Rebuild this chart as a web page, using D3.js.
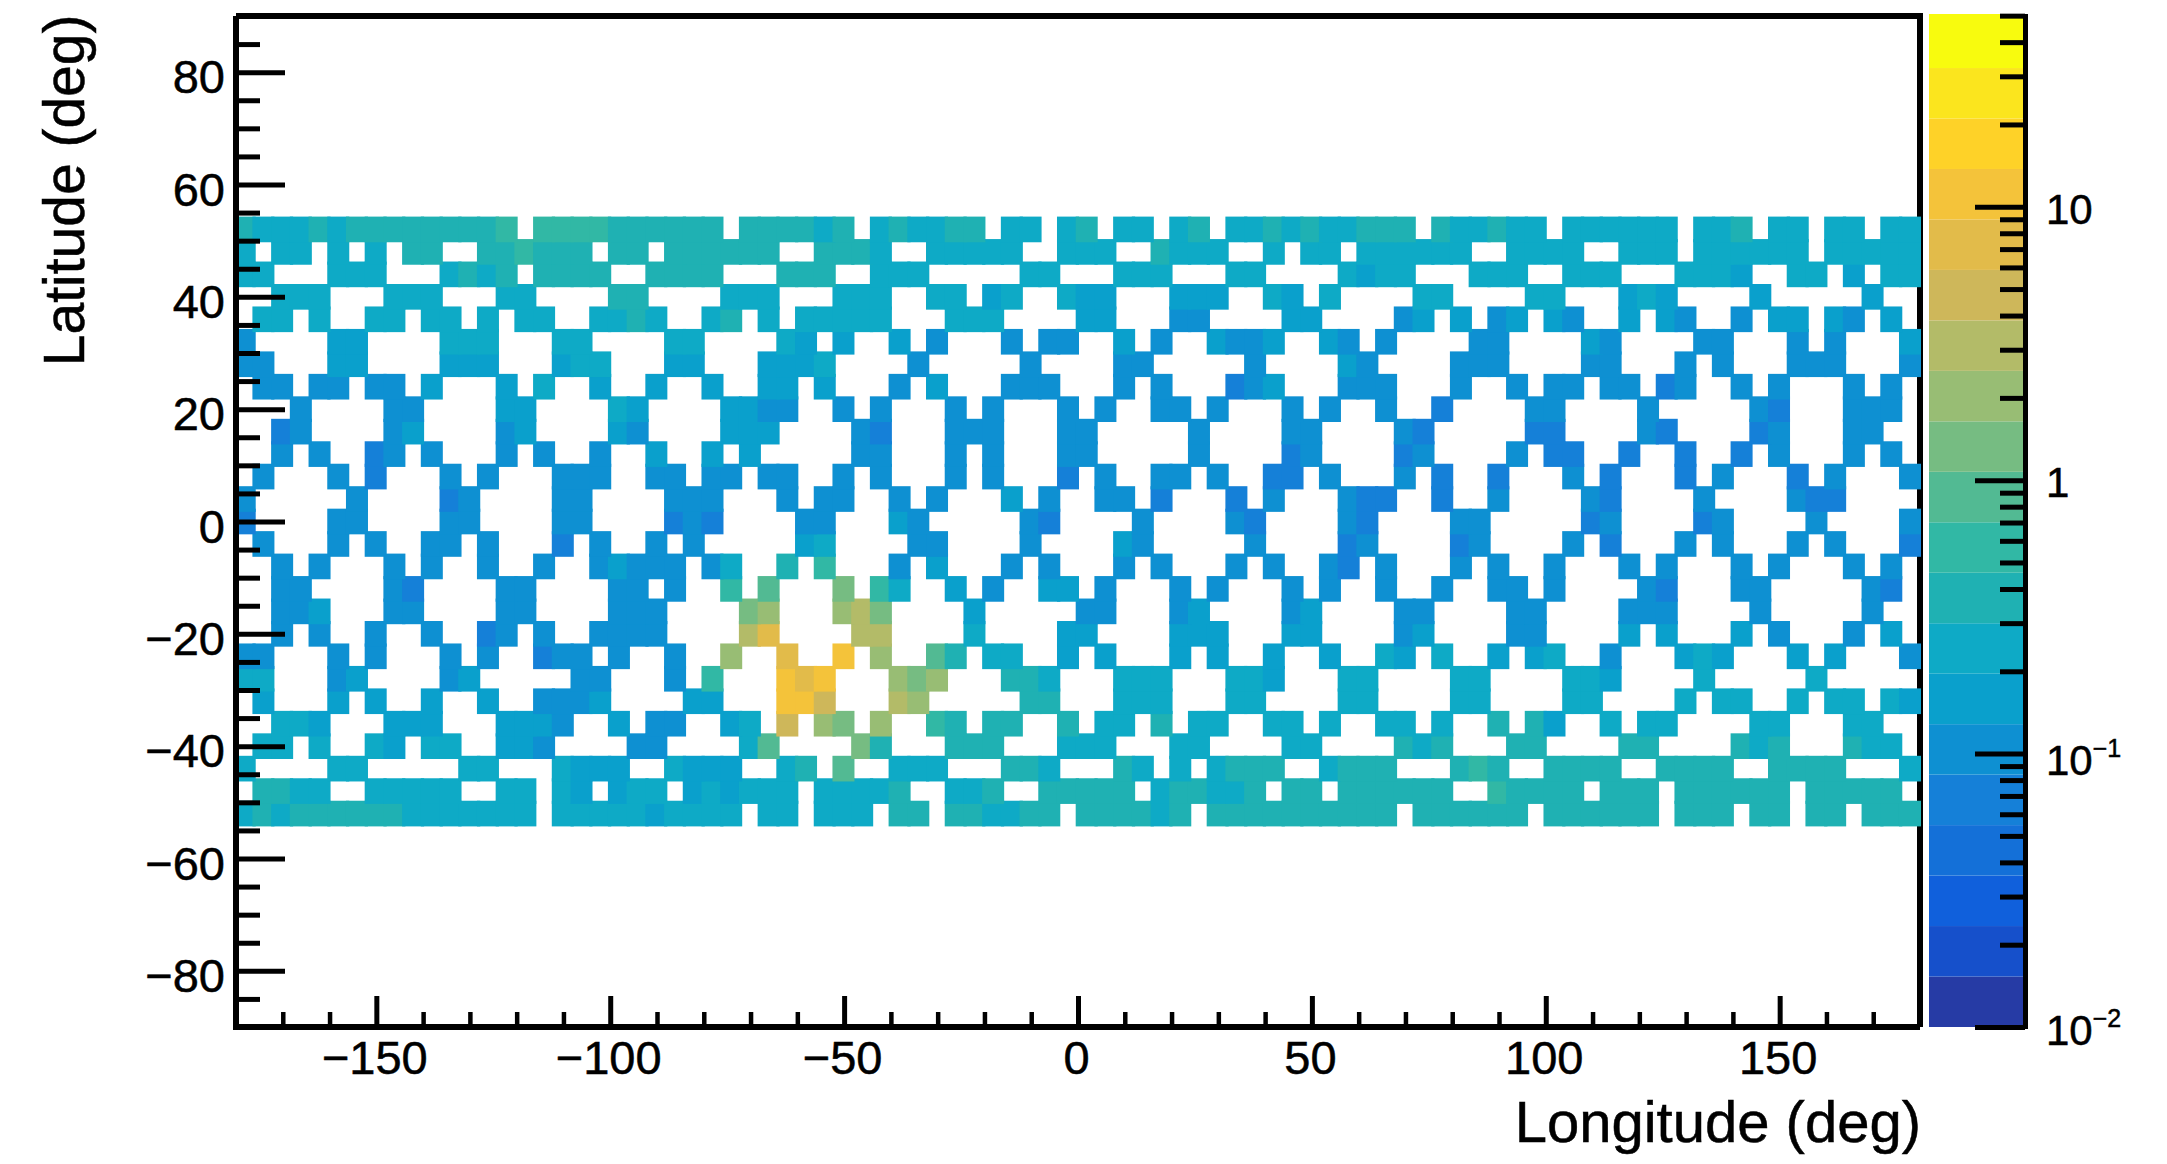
<!DOCTYPE html>
<html>
<head>
<meta charset="utf-8">
<script src="https://cdn.jsdelivr.net/npm/d3@7"></script>
<style>
html,body{margin:0;padding:0;background:#fff;}
svg{display:block;}
text{font-family:"Liberation Sans",Arial,sans-serif;fill:#000;stroke:#000;stroke-width:0.5px;}
</style>
</head>
<body>
<svg id="c" width="2167" height="1164"></svg>
<script>
// Colour-level code read for each 4 x 4 degree bin, top row (lat 54..50) first, lon -180 -> 180. "." = empty.
const cellLevels = [
"8 7 7 7 8 7 8 8 8 8 8 8 8 8 9 . 9 9 9 9 8 8 8 8 8 8 . 8 8 8 8  7 8 . 7 8 7 7 8 8 . 7 7 . 7 8 . 7 7 . 7 8 . 7 7 8 7 8 7 7 8 8  8 . 8 7 7 8 7 7 . 7 7 7 7 7 7 . 7 7 8 . 7 7 . 7 7 . 7 7",
"7 . 7 7 . 7 . 7 . 8 8 . . 8 8 9 8 8 8 . 8 8 . 8 8 8 8 8 8 . .  8 8 8 7 . . 7 7 7 7 7 . . 7 7 7 . . 8 7 7 7 . . 7 . 7 7 . 7 7  7 7 7 7 . . 7 7 7 7 . . 7 7 7 . 7 7 7 7 7 7 . 7 7 7 7 7",
"7 7 . . . 7 7 7 . . . 7 8 7 8 . 8 8 8 8 . . 8 8 8 8 . . . 8 8  8 . . 7 7 7 . . . . . 7 7 . . . 7 7 7 . . . 7 7 . . . . 7 6 7  7 . . . 7 7 7 . . 7 7 7 . . . 7 7 7 6 . . 7 7 . 6 . 7 7",
". . 7 7 7 . . . 7 7 7 . . . 7 7 . . . . 8 8 . . . . 7 7 7 . .  . 7 7 7 . . 7 7 . 6 7 . . 7 6 6 . . . 6 6 6 . . 7 6 . 7 . . .  . 7 7 . . . . 7 7 . . . 6 7 6 . . . . 6 . . . . . 6 . .",
". 7 7 . 7 . . 7 7 . 7 7 . 7 . 7 7 . . 7 7 8 7 . . 7 8 . 7 . 7  7 7 7 7 . . . 7 7 7 . . . . 6 6 . . . 5 5 . . . . 6 6 . . . .  5 6 . 6 . 5 6 . 6 5 . . 6 . 6 5 . . 5 . 6 6 . 6 5 . 6 .",
"5 . . . . 6 6 . . . . 7 7 7 . . . 7 7 . . . . 7 7 . . . . 7 6  . 6 . . 6 . 5 . . . 5 . 5 5 . . 6 . 5 . . 6 5 5 6 . . 6 5 . 5  . . . . 5 5 . . . . 6 5 . . . . 5 5 . . . 5 . 5 . . . 6",
"5 5 . . . 6 6 . . . . 6 6 6 . . . 6 7 7 . . . 6 6 . . . 6 6 6  7 . . . . 5 . . . . . 5 . . . . 5 5 . . . . . 5 . . . . 6 5 .  . . . 5 5 5 . . . . 5 5 . . . 5 . 5 . . . 5 5 5 . . . 5",
". 5 5 . 5 5 . 5 5 . 6 . . . 6 . 7 . . 6 . . 6 . . 6 . . 6 6 .  6 . . . 5 . 6 . . . 5 5 5 . . . 5 . 5 . . . 4 5 6 . . . 5 5 5  . . . 5 . . 5 . 5 5 . 5 5 . 4 5 . . 5 . 5 . . . 5 . 5 .",
". . . 5 . . . . 5 5 . . . . 6 6 . . . . 7 6 . . . . 6 6 5 5 .  . 5 . 5 . . . 5 . 5 . . . 5 . 5 . . 5 5 . 5 . . . 5 . 5 . . 5  . . 4 . . . . 5 5 . . . . 5 . . . . . 5 4 . . . 5 5 5 .",
". . 4 5 . . . . 5 6 . . . . 5 6 . . . . 6 5 . . . . 6 6 6 . .  . . 5 4 . . . 5 5 5 . . . 5 5 . . . . . 5 . . . . 5 5 . . . .  5 4 . . . . . 4 4 . . . . 5 4 . . . . 4 5 . . . 5 5 . .",
". . 5 . 5 . . 4 5 . 5 . . . 5 . 5 . . 5 . . 6 . . 6 . 6 . . .  . . 5 5 . . . 5 . 5 . . . 5 5 . . . . . 5 . . . . 4 5 . . . .  4 5 . . . . 5 . 4 4 . . 4 . . 4 . . 4 . 5 . . . 5 . 5 .",
". 5 . . . 5 . 4 . . . 5 . 5 . . . 5 5 5 . . 5 5 . 5 5 . 5 5 .  . 5 . 5 . . . 5 . 5 . . . 4 . 5 . . 5 5 . 5 . . 4 4 . 5 . . .  5 . 4 . . 4 . . . 5 . 4 . . . 4 . 5 . . . 4 . 5 . . . 5",
"5 . . . . . 5 . . . . 4 5 . . . . 5 5 . . . . 5 5 5 . . . 5 .  5 5 . . 5 . 5 . . . 6 . 5 . . 5 5 . 4 . . . 4 . 5 . . . 5 4 4  . . 4 . . 5 . . . . 5 4 . . . . 5 . . . . 5 4 4 . . . .",
"4 . . . . 5 5 . . . . 5 5 . . . . 5 5 . . . . 4 5 4 . . . . 5  5 . . . 6 5 . . . . . 5 4 . . . . 5 . . . . 5 4 . . . . 5 4 .  . . . 5 5 . . . . . 4 5 . . . . 4 5 . . . . 5 . . . . 5",
". 5 . . . 5 . 5 . . 5 5 . 5 . . . 4 . 5 . . 5 . 5 . . . . . 6  7 . . . . 5 5 . . . . 5 . . . . 6 5 . . . . . 5 . . . . 4 5 .  . . . 4 5 . . . . 5 . 4 . . . 5 . 5 . . . 5 . 5 . . . 4",
". . 5 . 5 . . . 5 . 5 . . 5 . . 5 . . 5 6 5 5 5 . 5 7 . . 8 .  9 . . . 5 . 6 . . . 5 . 5 . . . 5 . 5 . . . 5 . 5 . . 5 4 . 5  . . . 5 . 5 . . 5 . . . 5 . 5 . . . 5 . 5 . . . 5 . 5 .",
". . 5 5 . . . . 5 4 . . . . 5 5 . . . . 5 5 . 5 . . 9 . a . .  . b . 9 7 . . 6 . 5 . . 6 6 . 5 . . . 5 . 5 . . . 5 . 5 . . 5  . . 5 . . 5 5 . 5 . . . . 5 4 . . . 5 5 . . . . . 5 4 .",
". . 5 5 6 . . . 5 5 . . . . 5 5 . . . . 5 5 5 . . . . b c . .  . c d b . . . . 6 . . . . . 5 5 . . . 5 6 . . . . 5 6 . . . .  5 5 . . . . 5 5 . . . . 5 5 5 . . . . 5 . . . . . 5 . .",
". . 5 . 5 . . 5 . . 5 . . 4 5 . 5 . . 5 5 5 5 . . . . d f . .  . . d d . . . . 7 . . . . 6 6 . . . . 6 6 6 . . . 6 6 . . . .  5 6 . . . . 5 5 . . . . 6 . 6 . . . 6 . 5 . . . 5 . 6 .",
"5 5 . . . 5 . 5 . . . 5 . 5 . . 4 5 5 . 5 . . 5 . . c . . f .  . g . c . . a 8 . 7 7 . . 6 . 6 . . . 6 . 6 . . 6 . . 6 . . 7  6 . 7 . . 6 . 6 7 . . 5 . . . 6 7 6 . . . 6 . 6 . . . 5",
"7 7 . . . 5 6 . . . . 5 6 . . . . . 5 5 . . . 5 . 9 . . . g f  g . . . c b c . . . 8 8 7 . . . 7 7 7 . . . 7 7 6 . . . 7 7 .  . . . 7 7 . . . . 7 7 6 . . . . 7 . . . . . 7 . . . . .",
". 6 . . . 6 . 6 . . 6 . . 6 . . 5 5 5 6 . . . . 6 6 . . . g g  e . . . d c . . . . . 8 8 . . . 7 7 7 . . . 7 7 . . . . 7 7 .  . . . 7 7 . . . . 7 7 . . . . 7 . 7 7 . . 7 . 7 7 . 7 6",
". . 7 7 6 . . . 6 6 6 . . . 6 6 6 5 . . 6 . 5 5 . . 6 7 . e .  c b . c . . 9 8 . 8 8 . . 8 . 7 7 . 8 . 7 7 . . 7 7 . 7 . . 7  7 . 7 . . 8 . 8 6 . . 7 . 7 7 . . . . 7 7 . . . 7 7 . .",
". 7 7 . 7 . . 7 6 . 7 7 . . 6 6 5 . . . . 5 5 . . . . 7 a . .  . . b 8 . . . 8 8 8 . . . 7 7 7 . . . 7 7 . . . . 7 7 . . . .  8 7 8 . . . 8 8 . . . . 8 8 . . . . 8 7 8 . . . 8 7 7 .",
"7 . . . . 7 7 . . . . . 7 7 . . . 7 6 6 6 . . 7 6 6 6 . . 7 8  . a . . 7 7 7 . . . 8 8 7 . . . 8 7 . 7 . 7 8 8 8 . . 7 8 8 8  . . . 8 9 8 . . 8 8 8 8 . . 8 8 8 8 . . 8 8 8 8 . . . 7",
". 8 8 7 7 . . 7 7 7 7 7 . . 7 7 . 7 6 . 6 7 7 . 6 7 6 7 7 7 .  7 7 7 7 8 . . 7 7 8 . . 8 8 8 8 8 . 7 8 8 7 7 8 . 8 8 . 8 8 8  8 8 8 . . 9 8 8 8 8 . 8 8 8 . 8 8 8 8 8 8 . 8 8 8 8 8 .",
"7 8 7 8 8 8 8 8 8 7 7 7 7 7 7 7 . 7 7 7 7 7 6 7 7 7 7 . 7 7 .  7 7 7 . 8 8 . 8 8 7 7 8 8 . 8 8 8 8 7 8 . 8 8 8 8 8 8 8 8 8 8  . 8 8 8 8 8 8 . 8 8 8 8 8 8 . 8 8 8 . 8 8 . 8 8 . 8 8 8"
];
// Representative reading (events) for each colour-level code.
const levelValues = {"4":0.068,"5":0.105,"6":0.16,"7":0.245,"8":0.38,"9":0.58,"a":0.88,"b":1.35,"c":2.1,"d":3.2,"e":4.9,"f":7.4,"g":11.4};
const palette = ["#263ba5","#1650cb","#1060dc","#1470d8","#1580d8","#0e90d2","#0aa0cc","#0eaac6","#1fb1b3","#31b8a5","#52ba93","#76bc82","#98bd74","#b3bb68","#ceb75a","#e2bb4a","#f4c33a","#fed228","#fbe51e","#f8fb0e"];
const lonTicksMajor = [-150,-100,-50,0,50,100,150];
const lonTicksMinor = [-170,-160,-140,-130,-120,-110,-90,-80,-70,-60,-40,-30,-20,-10,10,20,30,40,60,70,80,90,110,120,130,140,160,170];
const latTicksMajor = [-80,-60,-40,-20,0,20,40,60,80];
const latTicksMinor = [-85,-75,-70,-65,-55,-50,-45,-35,-30,-25,-15,-10,-5,5,10,15,25,30,35,45,50,55,65,70,75,85];
const zTicksMajor = [0.01,0.1,1,10];
const zTicksMinor = [0.02,0.03,0.04,0.05,0.06,0.07,0.08,0.09,0.2,0.3,0.4,0.5,0.6,0.7,0.8,0.9,2,3,4,5,6,7,8,9,20,30,40,50];
const zAxisDomain = [0.01,50.7];
const zLevelDomain = [0.01,49.2];
const lonDomain = [-180,180], latDomain = [-90,90], binDeg = 4, topLat = 54;

const L=236,R=1920,T=16,B=1027;
const svg = d3.select("#c");
const x = d3.scaleLinear().domain(lonDomain).range([L,R]);
const y = d3.scaleLinear().domain(latDomain).range([B,T]);
const zLevel = d3.scaleLog().domain(zLevelDomain).range([0,palette.length]);
const yZ = d3.scaleLog().domain(zAxisDomain).range([1027,14]);
const band = v => palette[Math.min(palette.length-1,Math.floor(zLevel(v)))];

// frame lines that cells partly cover
svg.append("path").attr("d",`M${L},${T}H${R}V${B}`).attr("fill","none").attr("stroke","#000").attr("stroke-width",6);

// cells: lowest latitude first, lon ascending
const cells = [];
cellLevels.forEach((row,r)=>{
  row.trim().split(/\s+/).forEach((code,c)=>{
    if(code!==".") cells.push({lon:lonDomain[0]+c*binDeg, lat:topLat-(r+1)*binDeg, v:levelValues[code]});
  });
});
cells.sort((a,b)=>a.lat-b.lat||a.lon-b.lon);
svg.append("g").selectAll("rect").data(cells).join("rect")
  .attr("x",d=>x(d.lon)-2.3)
  .attr("width",d=>x(d.lon+binDeg)-x(d.lon)+3.3)
  .attr("y",d=>y(d.lat+binDeg)-1.6)
  .attr("height",d=>y(d.lat)-y(d.lat+binDeg)+3.2)
  .attr("fill",d=>band(d.v));

// left and bottom frame on top
svg.append("path").attr("d",`M${L},${T}V${B}H${R}`).attr("fill","none").attr("stroke","#000").attr("stroke-width",6);

function style(g,w){ g.select(".domain").remove(); g.selectAll("line").attr("stroke","#000").attr("stroke-width",w); }

// x axis: ticks point up from the bottom frame
svg.append("g").attr("transform",`translate(0,${B})`)
  .call(d3.axisTop(x).tickValues(lonTicksMinor).tickSize(15).tickFormat(""))
  .call(g=>style(g,4.5)).call(g=>g.selectAll("text").remove());
svg.append("g").attr("transform",`translate(0,${B})`)
  .call(d3.axisTop(x).tickValues(lonTicksMajor).tickSize(31).tickFormat(d3.format("d")))
  .call(g=>style(g,5))
  .call(g=>g.selectAll("text").attr("y",47).attr("x",-2).attr("dy",0).attr("text-anchor","middle").attr("font-size",47).attr("font-family",'"Liberation Sans"').attr("fill","#000"));

// y axis: ticks point right from the left frame
svg.append("g").attr("transform",`translate(${L},0)`)
  .call(d3.axisRight(y).tickValues(latTicksMinor).tickSize(24).tickFormat(""))
  .call(g=>style(g,5)).call(g=>g.selectAll("text").remove());
svg.append("g").attr("transform",`translate(${L},0)`)
  .call(d3.axisRight(y).tickValues(latTicksMajor).tickSize(49).tickFormat(d3.format("d")))
  .call(g=>style(g,5))
  .call(g=>g.selectAll("text").attr("x",-11).attr("dy",20.5).attr("text-anchor","end").attr("font-size",47).attr("font-family",'"Liberation Sans"').attr("fill","#000"));

// axis titles
svg.append("text").attr("x",1921).attr("y",1142).attr("text-anchor","end").attr("font-size",58).text("Longitude (deg)");
svg.append("text").attr("transform","translate(84,14.5) rotate(-90)").attr("text-anchor","end").attr("font-size",57).text("Latitude (deg)");

// colour bar
const bandEdges = d3.range(palette.length+1).map(i=>zLevel.invert(i));
bandEdges[palette.length] = zAxisDomain[1];
svg.append("g").selectAll("rect").data(palette).join("rect")
  .attr("x",1929).attr("width",97)
  .attr("y",(d,i)=>yZ(bandEdges[i+1]))
  .attr("height",(d,i)=>yZ(bandEdges[i])-yZ(bandEdges[i+1]))
  .attr("fill",d=>d);
svg.append("line").attr("x1",2025.5).attr("x2",2025.5).attr("y1",yZ(zAxisDomain[1])).attr("y2",yZ(zAxisDomain[0])+2).attr("stroke","#000").attr("stroke-width",5);
svg.append("g").attr("transform","translate(2025,0)")
  .call(d3.axisLeft(yZ).tickValues(zTicksMinor).tickSize(25).tickFormat(""))
  .call(g=>style(g,5)).call(g=>g.selectAll("text").remove());
svg.append("g").attr("transform","translate(2025,0)")
  .call(d3.axisLeft(yZ).tickValues(zTicksMajor).tickSize(50).tickFormat(""))
  .call(g=>style(g,5)).call(g=>g.selectAll("text").remove());
const zLabels = svg.append("g").selectAll("text").data(zTicksMajor).join("text")
  .attr("x",2046).attr("y",d=>yZ(d)+(d<0.05?18:(d<0.5?21:17))).attr("font-size",42);
zLabels.each(function(d){
  const t=d3.select(this);
  const e=Math.round(Math.log10(d));
  if(e===0){t.text("1");}
  else if(e===1){t.text("10");}
  else{
    t.append("tspan").text("10");
    t.append("tspan").attr("font-size",25).attr("dy",-18).text("\u2212"+(-e));
  }
});
</script>
</body>
</html>
